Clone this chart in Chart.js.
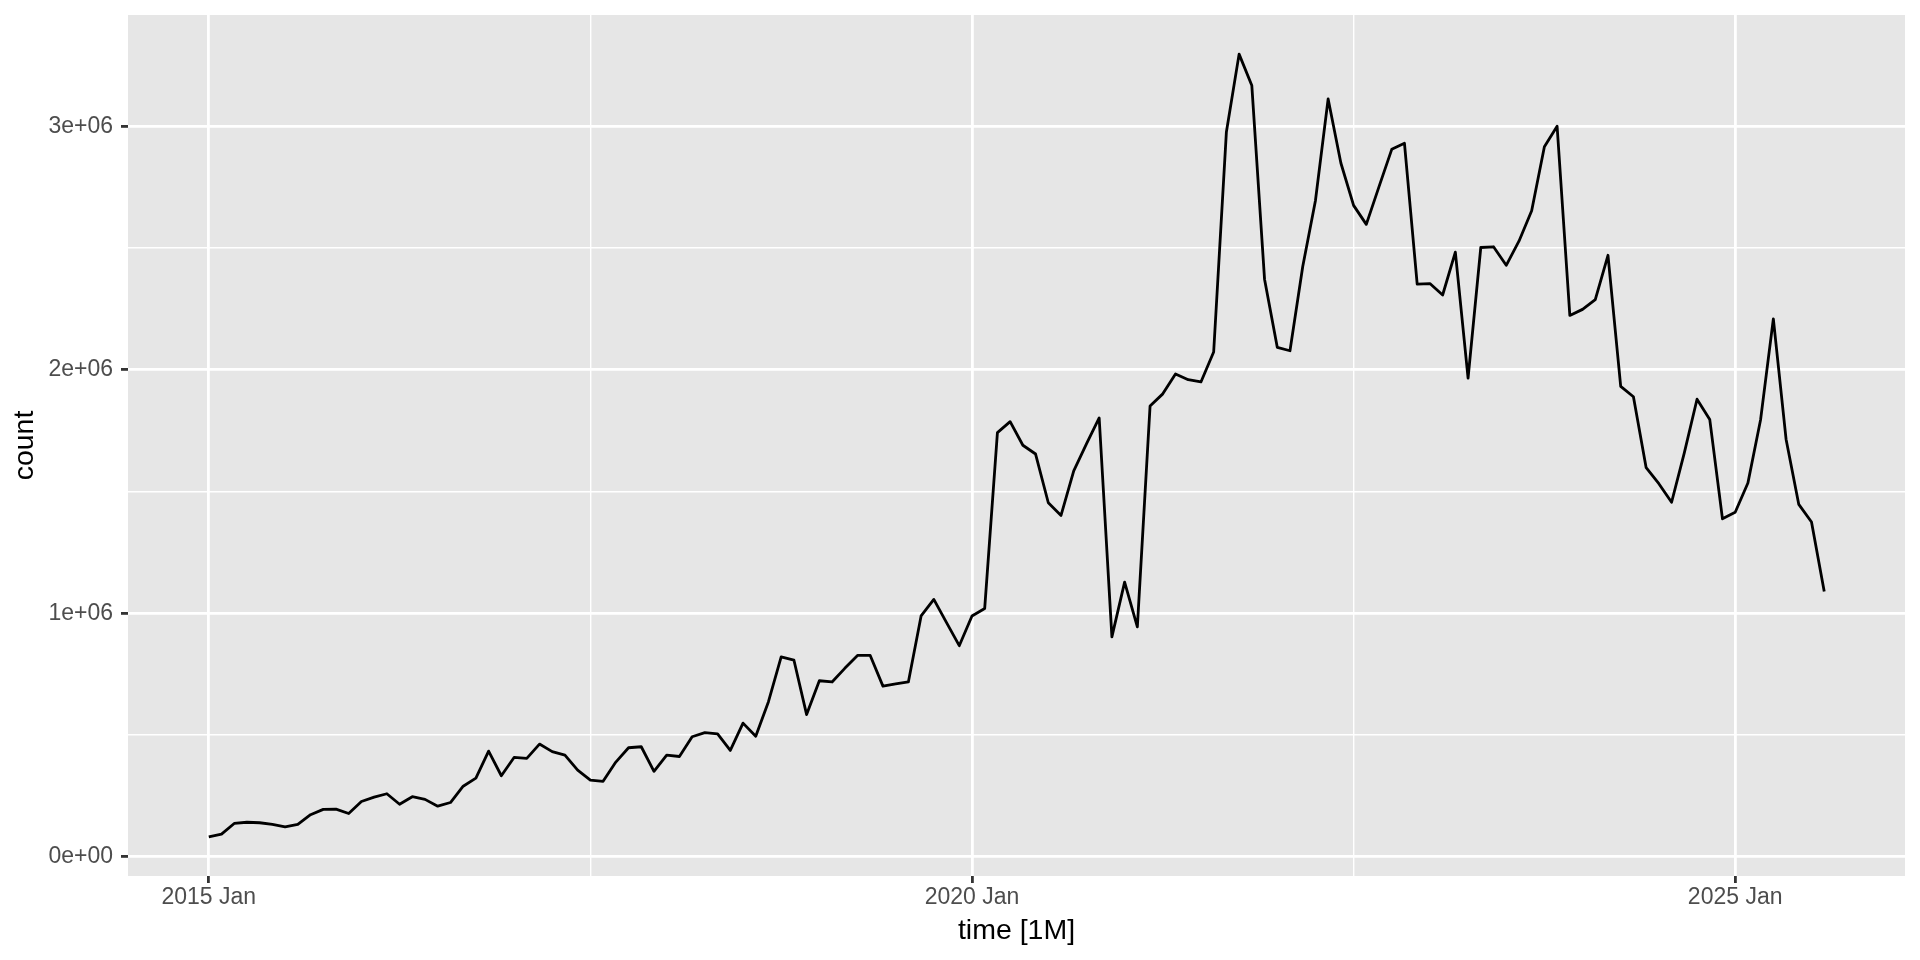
<!DOCTYPE html>
<html>
<head>
<meta charset="utf-8">
<script src="https://cdn.jsdelivr.net/npm/chart.js@4"></script>
<style>
  html, body { margin: 0; padding: 0; background: #ffffff; }
  #chart { display: block; }
</style>
</head>
<body>
<canvas id="chart" width="1920" height="960"></canvas>
<script>
// monthly counts, 2015 Jan .. 2025 Aug (index = months since 2015 Jan)
const counts = [
  82000, 93000, 137000, 142000, 140000, 133000, 123000, 133000, 173000, 195000, 196000, 178000,
  227000, 245000, 259000, 216000, 247000, 236000, 208000, 223000, 290000, 323000, 434000, 333000,
  408000, 404000, 463000, 432000, 418000, 356000, 315000, 310000, 389000, 448000, 452000, 351000,
  418000, 412000, 493000, 510000, 505000, 437000, 549000, 495000, 637000, 821000, 808000, 584000,
  723000, 718000, 774000, 827000, 827000, 701000, 710000, 718000, 989000, 1057000, 962000, 867000,
  989000, 1020000, 1742000, 1787000, 1690000, 1654000, 1454000, 1402000, 1585000, 1696000, 1802000, 903000,
  1128000, 944000, 1851000, 1901000, 1983000, 1959000, 1950000, 2073000, 2976000, 3296000, 3167000, 2372000,
  2092000, 2078000, 2423000, 2694000, 3112000, 2849000, 2675000, 2597000, 2752000, 2905000, 2930000, 2352000,
  2354000, 2307000, 2483000, 1966000, 2502000, 2505000, 2429000, 2528000, 2653000, 2916000, 3000000, 2223000,
  2248000, 2288000, 2470000, 1932000, 1889000, 1598000, 1532000, 1456000, 1659000, 1879000, 1796000, 1388000,
  1415000, 1535000, 1796000, 2209000, 1715000, 1447000, 1375000, 1089000
];

// x axis breaks (months since 2015 Jan)
const xMajor = [0, 60, 120];
const xMajorLabels = ["2015 Jan", "2020 Jan", "2025 Jan"];
const xMinor = [30, 90];

// y axis breaks
const yMajor = [0, 1000000, 2000000, 3000000];
const yMajorLabels = ["0e+00", "1e+06", "2e+06", "3e+06"];
const yMinor = [500000, 1500000, 2500000];

// ggplot-style 5% expansion
const n = counts.length - 1;
const cMin = Math.min(...counts), cMax = Math.max(...counts);
const yPad = (cMax - cMin) * 0.05;

const FONT = "'Liberation Sans', Arial, Helvetica, sans-serif";

const panelBg = {
    id: "panelBg",
    beforeDraw(chart) {
        const a = chart.chartArea;
        const ctx = chart.ctx;
        ctx.save();
        ctx.fillStyle = "#E6E6E6";
        ctx.fillRect(a.left, a.top, a.right - a.left, a.bottom - a.top);
        ctx.restore();
    }
};

function isMajor(list, v) {
    return list.some(m => Math.abs(m - v) < 1e-6);
}

new Chart(document.getElementById("chart").getContext("2d"), {
    type: "line",
    data: {
        datasets: [{
            data: counts.map((v, i) => ({ x: i, y: v })),
            borderColor: "#000000",
            borderWidth: 2.8,
            borderJoinStyle: "round",
            pointRadius: 0,
            tension: 0,
            fill: false
        }]
    },
    options: {
        responsive: false,
        animation: false,
        devicePixelRatio: 1,
        layout: { padding: { top: 15, right: 15, left: 0, bottom: 0 } },
        plugins: {
            legend: { display: false },
            tooltip: { enabled: false }
        },
        scales: {
            x: {
                type: "linear",
                min: -n * 0.05,
                max: n * 1.05,
                afterFit(scale) {
                    scale.height = 84;
                    scale.paddingLeft = 0;
                    scale.paddingRight = 0;
                },
                afterBuildTicks(scale) {
                    scale.ticks = [...xMajor, ...xMinor].sort((a, b) => a - b).map(v => ({ value: v }));
                },
                border: { display: false },
                grid: {
                    color: "#FFFFFF",
                    lineWidth: ctx => isMajor(xMajor, ctx.tick.value) ? 2.8 : 1.4,
                    tickColor: ctx => isMajor(xMajor, ctx.tick.value) ? "#333333" : "rgba(0,0,0,0)",
                    tickWidth: 2.8,
                    tickLength: 7
                },
                ticks: {
                    autoSkip: false,
                    maxRotation: 0,
                    padding: 3,
                    color: "#4D4D4D",
                    font: { family: FONT, size: 23, lineHeight: 1 },
                    callback: v => {
                        const k = xMajor.indexOf(v);
                        return k >= 0 ? xMajorLabels[k] : "";
                    }
                },
                title: {
                    display: true,
                    text: "time [1M]",
                    color: "#000000",
                    font: { family: FONT, size: 28.5, lineHeight: 1 },
                    padding: { top: 0, bottom: 15 }
                }
            },
            y: {
                type: "linear",
                min: cMin - yPad,
                max: cMax + yPad,
                afterFit(scale) {
                    scale.width = 128;
                    scale.paddingTop = 0;
                    scale.paddingBottom = 0;
                },
                afterBuildTicks(scale) {
                    scale.ticks = [...yMajor, ...yMinor].sort((a, b) => a - b).map(v => ({ value: v }));
                },
                border: { display: false },
                grid: {
                    color: "#FFFFFF",
                    lineWidth: ctx => isMajor(yMajor, ctx.tick.value) ? 2.8 : 1.4,
                    tickColor: ctx => isMajor(yMajor, ctx.tick.value) ? "#333333" : "rgba(0,0,0,0)",
                    tickWidth: 2.8,
                    tickLength: 7
                },
                ticks: {
                    autoSkip: false,
                    padding: 8,
                    color: "#4D4D4D",
                    font: { family: FONT, size: 23, lineHeight: 1 },
                    callback: v => {
                        const k = yMajor.indexOf(v);
                        return k >= 0 ? yMajorLabels[k] : "";
                    }
                },
                title: {
                    display: true,
                    text: "count",
                    color: "#000000",
                    font: { family: FONT, size: 28.5, lineHeight: 1 },
                    padding: { top: 11, bottom: 0 }
                }
            }
        }
    },
    plugins: [panelBg]
});
</script>
</body>
</html>
